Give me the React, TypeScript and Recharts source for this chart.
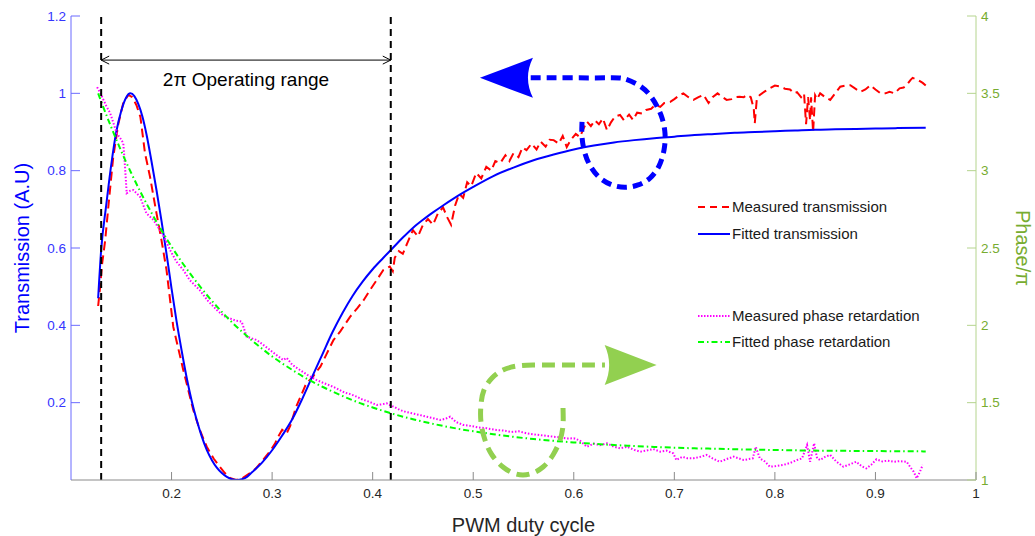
import React from 'react';
import { ComposedChart, Line, XAxis, YAxis, ReferenceLine, ReferenceDot, Legend } from 'recharts';

// x = PWM duty cycle, left axis = transmission (A.U), right axis = phase / pi
const xTicks = [0.2, 0.3, 0.4, 0.5, 0.6, 0.7, 0.8, 0.9, 1];
const transTicks = [0.2, 0.4, 0.6, 0.8, 1, 1.2];
const phaseTicks = [1, 1.5, 2, 2.5, 3, 3.5, 4];
const operatingRange = [0.13, 0.418];
const operatingArrowLevel = 1.086;

const measuredTransmission: [number, number][] = [
  [0.127, 0.45], [0.129, 0.5], [0.131, 0.56], [0.134, 0.62], [0.138, 0.73], [0.142, 0.835], [0.147, 0.92],
  [0.152, 0.975], [0.157, 0.996], [0.161, 0.99], [0.165, 0.97], [0.169, 0.939], [0.1736, 0.845], [0.1786, 0.784],
  [0.185, 0.69], [0.19, 0.62], [0.195, 0.543], [0.2017, 0.396], [0.2117, 0.284], [0.2216, 0.181], [0.228, 0.13],
  [0.235, 0.086], [0.242, 0.055], [0.248, 0.034], [0.253, 0.018], [0.258, 0.005], [0.264, 0.0], [0.27, 0.004],
  [0.278, 0.018], [0.284, 0.03], [0.291, 0.052], [0.298, 0.075], [0.303, 0.095], [0.306, 0.112], [0.31, 0.13],
  [0.3145, 0.121], [0.318, 0.14], [0.324, 0.19], [0.329, 0.22], [0.334, 0.25], [0.34, 0.265], [0.344, 0.28],
  [0.348, 0.293], [0.354, 0.325], [0.361, 0.362], [0.368, 0.385], [0.3775, 0.422], [0.385, 0.445], [0.391, 0.465],
  [0.397, 0.49], [0.404, 0.517], [0.4106, 0.543], [0.417, 0.552], [0.42, 0.54], [0.422, 0.575], [0.426, 0.592],
  [0.43, 0.585], [0.434, 0.61], [0.44, 0.646], [0.445, 0.63], [0.45, 0.66], [0.455, 0.675], [0.46, 0.66],
  [0.465, 0.69], [0.47, 0.705], [0.474, 0.68], [0.478, 0.66], [0.482, 0.71], [0.486, 0.74], [0.49, 0.73],
  [0.494, 0.77], [0.498, 0.76], [0.503, 0.794], [0.508, 0.78], [0.513, 0.81], [0.518, 0.8], [0.522, 0.825],
  [0.527, 0.82], [0.532, 0.84], [0.536, 0.825], [0.54, 0.845], [0.545, 0.835], [0.549, 0.86], [0.553, 0.853],
  [0.558, 0.87], [0.563, 0.855], [0.567, 0.875], [0.572, 0.862], [0.576, 0.88], [0.58, 0.879], [0.585, 0.87],
  [0.589, 0.89], [0.593, 0.861], [0.597, 0.88], [0.602, 0.895], [0.606, 0.887], [0.61, 0.91], [0.613, 0.927],
  [0.617, 0.915], [0.621, 0.93], [0.625, 0.92], [0.629, 0.935], [0.633, 0.905], [0.637, 0.925], [0.641, 0.94],
  [0.646, 0.944], [0.65, 0.93], [0.655, 0.945], [0.659, 0.931], [0.663, 0.95], [0.668, 0.948], [0.672, 0.957],
  [0.677, 0.96], [0.681, 0.97], [0.686, 0.965], [0.69, 0.975], [0.696, 0.978], [0.7, 0.985], [0.705, 0.995],
  [0.709, 1.0], [0.714, 0.99], [0.719, 0.983], [0.724, 0.99], [0.729, 0.996], [0.734, 0.975], [0.738, 0.99],
  [0.743, 1.0], [0.748, 0.99], [0.752, 0.983], [0.757, 0.985], [0.761, 0.99], [0.765, 0.991], [0.769, 0.99],
  [0.772, 0.996], [0.776, 0.99], [0.779, 0.96], [0.78, 0.923], [0.782, 0.985], [0.785, 0.996], [0.79, 1.005],
  [0.795, 1.013], [0.8, 1.02], [0.805, 1.018], [0.81, 1.012], [0.815, 1.01], [0.819, 1.0], [0.822, 1.003],
  [0.826, 0.99], [0.829, 1.0], [0.831, 0.92], [0.833, 0.99], [0.835, 0.93], [0.836, 0.99], [0.838, 0.9],
  [0.84, 0.995], [0.842, 0.985], [0.845, 1.0], [0.85, 0.99], [0.855, 0.983], [0.86, 1.0], [0.865, 1.017],
  [0.87, 1.02], [0.875, 1.021], [0.88, 1.012], [0.885, 1.004], [0.89, 1.01], [0.895, 1.021], [0.9, 1.01],
  [0.905, 1.0], [0.91, 1.0], [0.914, 1.004], [0.919, 1.0], [0.924, 1.013], [0.928, 1.015], [0.931, 1.021],
  [0.935, 1.035], [0.937, 1.04], [0.942, 1.035], [0.947, 1.027], [0.95, 1.02],
];

const fittedTransmission: [number, number][] = [
  [0.127, 0.47], [0.13, 0.595], [0.135, 0.71], [0.14, 0.815], [0.145, 0.9], [0.15, 0.955], [0.155, 0.99],
  [0.159, 1.0], [0.163, 0.993], [0.167, 0.972], [0.171, 0.94], [0.175, 0.895], [0.18, 0.825], [0.185, 0.75],
  [0.19, 0.67], [0.195, 0.585], [0.2, 0.495], [0.205, 0.41], [0.21, 0.335], [0.215, 0.265], [0.22, 0.205],
  [0.225, 0.155], [0.23, 0.113], [0.235, 0.078], [0.24, 0.052], [0.245, 0.032], [0.25, 0.018], [0.255, 0.008],
  [0.26, 0.002], [0.265, 0.0], [0.27, 0.002], [0.275, 0.008], [0.28, 0.02], [0.29, 0.045], [0.3, 0.077],
  [0.31, 0.115], [0.32, 0.157], [0.33, 0.21], [0.34, 0.268], [0.35, 0.325], [0.36, 0.382], [0.37, 0.432],
  [0.38, 0.476], [0.39, 0.513], [0.4, 0.545], [0.41, 0.573], [0.42, 0.6], [0.43, 0.627], [0.44, 0.652],
  [0.45, 0.673], [0.46, 0.692], [0.47, 0.71], [0.48, 0.727], [0.49, 0.743], [0.5, 0.758], [0.52, 0.786],
  [0.54, 0.808], [0.56, 0.827], [0.58, 0.842], [0.6, 0.855], [0.62, 0.865], [0.64, 0.873], [0.66, 0.879],
  [0.68, 0.884], [0.7, 0.888], [0.72, 0.892], [0.74, 0.895], [0.76, 0.898], [0.78, 0.9], [0.8, 0.902],
  [0.82, 0.904], [0.84, 0.906], [0.86, 0.907], [0.88, 0.908], [0.9, 0.909], [0.92, 0.91], [0.95, 0.911],
];

const measuredPhase: [number, number][] = [
  [0.126, 3.54], [0.13, 3.49], [0.135, 3.42], [0.139, 3.371], [0.1455, 3.242], [0.15, 3.2], [0.152, 3.177],
  [0.1537, 3.026], [0.1554, 2.854], [0.159, 2.87], [0.162, 2.875], [0.1686, 2.832], [0.175, 2.724], [0.182, 2.681],
  [0.1885, 2.616], [0.1935, 2.56], [0.1985, 2.487], [0.205, 2.411], [0.2117, 2.358], [0.218, 2.293], [0.228, 2.228],
  [0.236, 2.16], [0.245, 2.099], [0.252, 2.06], [0.258, 2.045], [0.264, 2.03], [0.2697, 2.024], [0.2747, 1.927],
  [0.2846, 1.905], [0.29, 1.88], [0.298, 1.84], [0.304, 1.81], [0.311, 1.776], [0.3145, 1.79], [0.32, 1.745],
  [0.3277, 1.711], [0.335, 1.68], [0.344, 1.647], [0.352, 1.625], [0.358, 1.61], [0.364, 1.593], [0.372, 1.565],
  [0.378, 1.555], [0.384, 1.539], [0.39, 1.52], [0.397, 1.505], [0.404, 1.485], [0.41, 1.49], [0.414, 1.496],
  [0.417, 1.485], [0.422, 1.47], [0.427, 1.453], [0.433, 1.44], [0.44, 1.43], [0.447, 1.42], [0.453, 1.41],
  [0.46, 1.4], [0.467, 1.388], [0.472, 1.395], [0.477, 1.409], [0.483, 1.375], [0.49, 1.356], [0.497, 1.35],
  [0.505, 1.34], [0.513, 1.335], [0.523, 1.323], [0.53, 1.32], [0.538, 1.31], [0.545, 1.315], [0.553, 1.302],
  [0.56, 1.295], [0.567, 1.29], [0.573, 1.285], [0.58, 1.28], [0.587, 1.275], [0.593, 1.268], [0.6, 1.27],
  [0.606, 1.255], [0.613, 1.215], [0.62, 1.235], [0.626, 1.225], [0.633, 1.237], [0.64, 1.215], [0.646, 1.205],
  [0.653, 1.215], [0.66, 1.195], [0.666, 1.183], [0.672, 1.19], [0.679, 1.2], [0.686, 1.183], [0.692, 1.19],
  [0.699, 1.172], [0.702, 1.129], [0.708, 1.15], [0.713, 1.14], [0.719, 1.14], [0.726, 1.15], [0.732, 1.162],
  [0.738, 1.14], [0.745, 1.118], [0.752, 1.135], [0.759, 1.151], [0.764, 1.14], [0.769, 1.129], [0.774, 1.135],
  [0.778, 1.14], [0.781, 1.215], [0.785, 1.14], [0.79, 1.12], [0.795, 1.086], [0.801, 1.09], [0.808, 1.097],
  [0.815, 1.11], [0.822, 1.129], [0.827, 1.14], [0.832, 1.226], [0.835, 1.118], [0.839, 1.237], [0.842, 1.14],
  [0.845, 1.129], [0.85, 1.15], [0.855, 1.162], [0.861, 1.12], [0.868, 1.086], [0.874, 1.1], [0.881, 1.118],
  [0.886, 1.09], [0.891, 1.075], [0.896, 1.1], [0.901, 1.134], [0.907, 1.12], [0.912, 1.125], [0.918, 1.118],
  [0.924, 1.122], [0.931, 1.118], [0.935, 1.08], [0.938, 1.054], [0.941, 1.011], [0.944, 1.05], [0.947, 1.097],
];

const fittedPhase: [number, number][] = [
  [0.127, 3.5], [0.13, 3.447], [0.14, 3.281], [0.15, 3.126], [0.16, 2.983], [0.17, 2.851], [0.18, 2.728],
  [0.19, 2.614], [0.2, 2.509], [0.21, 2.411], [0.22, 2.321], [0.23, 2.237], [0.24, 2.159], [0.25, 2.087],
  [0.26, 2.02], [0.27, 1.959], [0.28, 1.902], [0.29, 1.849], [0.3, 1.799], [0.31, 1.754], [0.32, 1.712],
  [0.33, 1.672], [0.34, 1.636], [0.35, 1.603], [0.36, 1.572], [0.37, 1.543], [0.38, 1.516], [0.39, 1.491],
  [0.4, 1.469], [0.42, 1.428], [0.44, 1.393], [0.46, 1.363], [0.48, 1.337], [0.5, 1.315], [0.52, 1.296],
  [0.54, 1.279], [0.56, 1.265], [0.58, 1.253], [0.6, 1.243], [0.62, 1.234], [0.64, 1.226], [0.66, 1.22],
  [0.68, 1.214], [0.7, 1.209], [0.72, 1.205], [0.74, 1.202], [0.76, 1.199], [0.78, 1.196], [0.8, 1.194],
  [0.82, 1.192], [0.84, 1.19], [0.86, 1.189], [0.88, 1.188], [0.9, 1.187], [0.92, 1.186], [0.95, 1.185],
];

// annotation arrows, in data units (blue on the transmission axis, green on the phase axis)
const blueLoop: [number, number][] = [
  [0.6082, 0.926], [0.6082, 0.887], [0.6111, 0.845], [0.6171, 0.809], [0.6261, 0.781], [0.638, 0.763],
  [0.6509, 0.757], [0.6639, 0.763], [0.6758, 0.781], [0.6847, 0.812], [0.6897, 0.853], [0.6907, 0.897],
  [0.6867, 0.944], [0.6778, 0.988], [0.6658, 1.019], [0.6509, 1.037], [0.636, 1.04], [0.5962, 1.04], [0.5564, 1.04],
];
const blueArrowTip = [0.5067, 1.04];

const greenLoop: [number, number][] = [
  [0.5893, 1.4655], [0.5893, 1.3556], [0.5863, 1.2586], [0.5793, 1.1616], [0.5694, 1.0841], [0.5564, 1.0388],
  [0.5425, 1.0388], [0.5296, 1.0841], [0.5187, 1.1616], [0.5117, 1.2586], [0.5077, 1.375], [0.5077, 1.485],
  [0.5107, 1.582], [0.5187, 1.659], [0.5296, 1.711], [0.5435, 1.737], [0.5594, 1.7435], [0.5863, 1.7435],
  [0.631, 1.7435],
];
const greenArrowTip = [0.6824, 1.744];

const FONT = '"Liberation Sans", Arial, Helvetica, sans-serif';
const BLUE = '#0000FF';
const GREEN_AXIS = '#77AC30';
const BOX_GRAY = '#8a8a8a';
const TEXT_GRAY = '#262626';

const toPoints = (pairs: [number, number][]) => pairs.map(([x, y]) => ({ x, y }));

const fmt = (v: number) => String(v);

const legendItems = [
  { name: 'Measured transmission', color: '#FF0000', dash: '7 5', top: 2 },
  { name: 'Fitted transmission', color: BLUE, dash: undefined, top: 29 },
  { name: 'Measured phase retardation', color: '#FF00FF', dash: '1.5 1.5', top: 111 },
  { name: 'Fitted phase retardation', color: '#00FF00', dash: '6 3 1.5 3', top: 137 },
];

const BottomTick = (props: any) => {
  const { x, y, payload } = props;
  return (
    <g>
      <line x1={x} y1={y} x2={x} y2={y - 8} stroke={BOX_GRAY} />
      <text x={x} y={y + 18} textAnchor="middle" fontSize={13.5} fill={TEXT_GRAY} fontFamily={FONT}>
        {fmt(payload.value)}
      </text>
    </g>
  );
};

const TopTick = (props: any) => {
  const { x, y } = props;
  return <line x1={x} y1={y} x2={x} y2={y + 8} stroke={BOX_GRAY} />;
};

const LeftTick = (props: any) => {
  const { x, y, payload } = props;
  return (
    <g>
      <line x1={x} y1={y} x2={x + 9} y2={y} stroke="#6b6bff" />
      <text x={x - 5} y={y} dy="0.35em" textAnchor="end" fontSize={13.5} fill="#3535ff" fontFamily={FONT}>
        {fmt(payload.value)}
      </text>
    </g>
  );
};

const RightTick = (props: any) => {
  const { x, y, payload } = props;
  return (
    <g>
      <line x1={x} y1={y} x2={x - 9} y2={y} stroke="#b5d48e" />
      <text x={x + 5} y={y} dy="0.35em" textAnchor="start" fontSize={13.5} fill={GREEN_AXIS} fontFamily={FONT}>
        {fmt(payload.value)}
      </text>
    </g>
  );
};

const RangeArrow = (props: any) => {
  const { x1, y1, x2, y2 } = props;
  const mid = (x1 + x2) / 2;
  return (
    <g>
      <line x1={x1} y1={y1} x2={x2} y2={y2} stroke="#000" strokeWidth={1} />
      <path d={`M${x1 + 8},${y1 - 4} L${x1},${y1} L${x1 + 8},${y1 + 4}`} fill="none" stroke="#000" strokeWidth={1} />
      <path d={`M${x2 - 8},${y2 - 4} L${x2},${y2} L${x2 - 8},${y2 + 4}`} fill="none" stroke="#000" strokeWidth={1} />
      <text x={mid} y={y1 + 26} textAnchor="middle" fontSize={19} fill="#000" fontFamily={FONT}>
        2π Operating range
      </text>
    </g>
  );
};

const LeftHead = (props: any) => {
  const { cx, cy } = props;
  return <path d={`M${cx},${cy} L${cx + 53},${cy - 20} Q${cx + 43},${cy} ${cx + 53},${cy + 20} Z`} fill={BLUE} />;
};

const RightHead = (props: any) => {
  const { cx, cy } = props;
  return <path d={`M${cx},${cy} L${cx - 52},${cy - 20} Q${cx - 43},${cy} ${cx - 52},${cy + 20} Z`} fill="#92D050" />;
};

const LegendBox = () => (
  <div style={{ position: 'relative', width: 240, height: 160, fontFamily: FONT }}>
    {legendItems.map((item) => (
      <div key={item.name} style={{ position: 'absolute', left: 0, top: item.top, height: 18, display: 'flex', alignItems: 'center', whiteSpace: 'nowrap' }}>
        <svg width={36} height={18}>
          <line x1={2} y1={9} x2={34} y2={9} stroke={item.color} strokeWidth={2} strokeDasharray={item.dash} />
        </svg>
        <span style={{ fontSize: 15, color: '#1a1a1a', lineHeight: '18px' }}>{item.name}</span>
      </div>
    ))}
  </div>
);

export default function App() {
  return (
    <div style={{ position: 'absolute', left: 0, top: 0 }}>
      <ComposedChart width={1035} height={536} margin={{ top: 16, right: 0, bottom: 0, left: 0 }} style={{ fontFamily: FONT }}>
        <XAxis
          dataKey="x"
          type="number"
          domain={[0.1, 1]}
          ticks={xTicks}
          height={56}
          axisLine={{ stroke: BOX_GRAY }}
          tickLine={false}
          tickSize={0}
          tickMargin={0}
          tick={<BottomTick />}
          allowDataOverflow
          label={() => (
            <text x={523.5} y={532} textAnchor="middle" fontSize={20} fill={TEXT_GRAY} fontFamily={FONT}>
              PWM duty cycle
            </text>
          )}
        />
        <XAxis
          xAxisId="top"
          orientation="top"
          type="number"
          domain={[0.1, 1]}
          ticks={xTicks}
          height={0}
          axisLine={{ stroke: BOX_GRAY }}
          tickLine={false}
          tickSize={0}
          tickMargin={0}
          tick={<TopTick />}
          allowDataOverflow
        />
        <YAxis
          yAxisId="left"
          type="number"
          domain={[0, 1.2]}
          ticks={transTicks}
          width={71}
          axisLine={{ stroke: '#6b6bff' }}
          tickLine={false}
          tickSize={0}
          tickMargin={0}
          tick={<LeftTick />}
          allowDataOverflow
          label={() => (
            <text x={22} y={248} transform="rotate(-90, 22, 248)" textAnchor="middle" dominantBaseline="central" fontSize={20} fill={BLUE} fontFamily={FONT}>
              Transmission (A.U)
            </text>
          )}
        />
        <YAxis
          yAxisId="right"
          orientation="right"
          type="number"
          domain={[1, 4]}
          ticks={phaseTicks}
          width={59}
          axisLine={{ stroke: '#b5d48e' }}
          tickLine={false}
          tickSize={0}
          tickMargin={0}
          tick={<RightTick />}
          allowDataOverflow
          label={() => (
            <text x={1023} y={248} transform="rotate(90, 1023, 248)" textAnchor="middle" dominantBaseline="central" fontSize={20} fill={GREEN_AXIS} fontFamily={FONT}>
              Phase/π
            </text>
          )}
        />

        <Line yAxisId="left" data={toPoints(measuredTransmission)} dataKey="y" type="linear" stroke="#FF0000" strokeWidth={2} strokeDasharray="9 5" dot={false} activeDot={false} isAnimationActive={false} name="Measured transmission" />
        <Line yAxisId="left" data={toPoints(fittedTransmission)} dataKey="y" type="monotone" stroke={BLUE} strokeWidth={2} dot={false} activeDot={false} isAnimationActive={false} name="Fitted transmission" />
        <Line yAxisId="right" data={toPoints(measuredPhase)} dataKey="y" type="linear" stroke="#FF00FF" strokeWidth={2} strokeDasharray="1.5 1.8" dot={false} activeDot={false} isAnimationActive={false} name="Measured phase retardation" />
        <Line yAxisId="right" data={toPoints(fittedPhase)} dataKey="y" type="monotone" stroke="#00FF00" strokeWidth={2} strokeDasharray="6 3 1.5 3" dot={false} activeDot={false} isAnimationActive={false} name="Fitted phase retardation" />

        <ReferenceLine yAxisId="left" x={operatingRange[0]} stroke="#000" strokeWidth={2} strokeDasharray="7 5" />
        <ReferenceLine yAxisId="left" x={operatingRange[1]} stroke="#000" strokeWidth={2} strokeDasharray="7 5" />
        <ReferenceLine
          yAxisId="left"
          segment={[{ x: operatingRange[0], y: operatingArrowLevel }, { x: operatingRange[1], y: operatingArrowLevel }]}
          shape={<RangeArrow />}
        />

        <Line yAxisId="left" data={toPoints(blueLoop)} dataKey="y" type="natural" stroke={BLUE} strokeWidth={5} strokeDasharray="10 6" dot={false} activeDot={false} isAnimationActive={false} legendType="none" />
        <ReferenceDot yAxisId="left" x={blueArrowTip[0]} y={blueArrowTip[1]} shape={<LeftHead />} />
        <Line yAxisId="right" data={toPoints(greenLoop)} dataKey="y" type="natural" stroke="#92D050" strokeWidth={5} strokeDasharray="13 7" dot={false} activeDot={false} isAnimationActive={false} legendType="none" />
        <ReferenceDot yAxisId="right" x={greenArrowTip[0]} y={greenArrowTip[1]} shape={<RightHead />} />

        <Legend layout="vertical" align="center" verticalAlign="middle" wrapperStyle={{ left: 696, top: 196, width: 240 }} content={() => <LegendBox />} />
      </ComposedChart>
    </div>
  );
}
